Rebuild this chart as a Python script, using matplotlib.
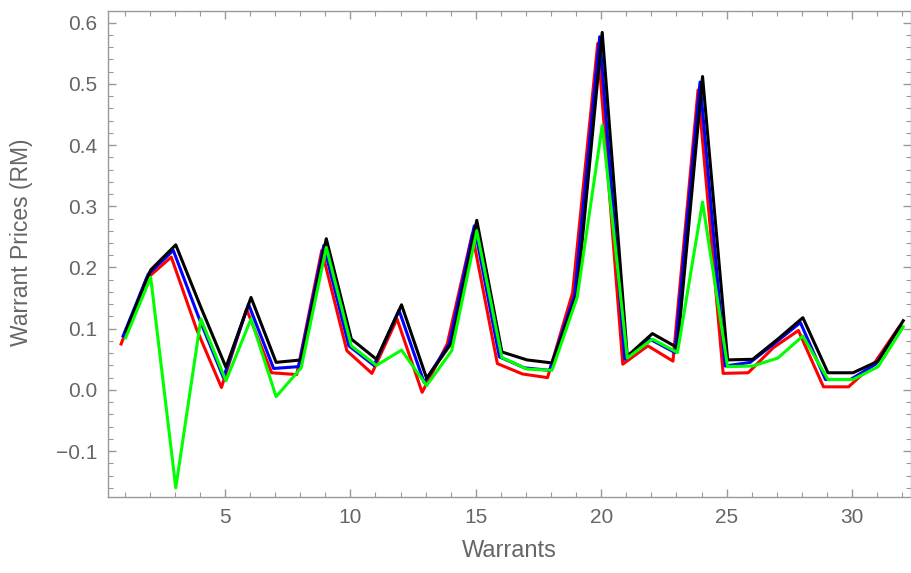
import matplotlib
matplotlib.use("Agg")
import matplotlib.pyplot as plt
import matplotlib.transforms as mtransforms
from matplotlib.ticker import MultipleLocator, FuncFormatter

warrants = list(range(1, 33))

red = [0.075, 0.181, 0.217, 0.100, 0.004, 0.132, 0.028, 0.025, 0.228, 0.064,
       0.027, 0.116, -0.004, 0.075, 0.255, 0.043, 0.026, 0.020, 0.159, 0.566,
       0.042, 0.072, 0.047, 0.490, 0.027, 0.028, 0.069, 0.097, 0.005, 0.005,
       0.042, 0.102]
blue = [0.088, 0.189, 0.228, 0.120, 0.020, 0.140, 0.035, 0.038, 0.236, 0.072,
        0.040, 0.130, 0.012, 0.075, 0.268, 0.054, 0.036, 0.032, 0.155, 0.577,
        0.050, 0.083, 0.061, 0.503, 0.039, 0.045, 0.077, 0.110, 0.017, 0.017,
        0.042, 0.105]
green = [0.085, 0.184, -0.160, 0.116, 0.015, 0.116, -0.011, 0.036, 0.233, 0.072,
         0.040, 0.065, 0.007, 0.064, 0.260, 0.053, 0.034, 0.032, 0.151, 0.432,
         0.052, 0.083, 0.061, 0.307, 0.038, 0.039, 0.052, 0.088, 0.017, 0.017,
         0.038, 0.103]
black = [0.095, 0.196, 0.237, 0.135, 0.037, 0.151, 0.045, 0.049, 0.247, 0.083,
         0.050, 0.139, 0.019, 0.077, 0.277, 0.062, 0.049, 0.044, 0.157, 0.584,
         0.055, 0.092, 0.069, 0.512, 0.049, 0.050, 0.083, 0.118, 0.028, 0.028,
         0.047, 0.113]

plt.rcParams["font.family"] = ["Liberation Sans", "DejaVu Sans"]

text_color = "#666666"
axis_color = "#999999"

fig = plt.figure(figsize=(9.11, 5.73), dpi=100)
ax = fig.add_axes([0.1186, 0.1326, 0.8814, 0.8482])

# the series in the source image sit a few pixels apart horizontally
def shifted(dx_px):
    return mtransforms.offset_copy(ax.transData, fig=fig, x=dx_px * 0.72, y=0, units="points")

lw = 2.2
ax.plot(warrants, red, color="#ff0000", linewidth=lw, transform=shifted(-3.5))
ax.plot(warrants, blue, color="#0000ff", linewidth=lw, transform=shifted(-1.5))
ax.plot(warrants, black, color="#000000", linewidth=lw, transform=shifted(1.0))
ax.plot(warrants, green, color="#00ff00", linewidth=lw, transform=shifted(1.0))

ax.set_xlim(0.34, 32.35)
ax.set_ylim(-0.175, 0.619)

ax.xaxis.set_major_locator(MultipleLocator(5))
ax.xaxis.set_minor_locator(MultipleLocator(1))
ax.yaxis.set_major_locator(MultipleLocator(0.1))
ax.yaxis.set_minor_locator(MultipleLocator(0.02))
ax.yaxis.set_major_formatter(FuncFormatter(lambda v, p: f"{v:.1f}".replace("-", "\u2212")))

for side in ax.spines.values():
    side.set_color(axis_color)
    side.set_linewidth(1.0)

ax.tick_params(which="both", direction="in", top=True, right=True,
               color=axis_color, labelcolor=text_color, labelsize=15)
ax.tick_params(which="major", length=6, width=1.0, pad=8)
ax.tick_params(which="minor", length=3.5, width=0.8)

ax.set_xlabel("Warrants", color=text_color, fontsize=17, labelpad=9)
ax.set_ylabel("Warrant Prices (RM)", color=text_color, fontsize=16.5)
ax.yaxis.set_label_coords(-0.093, 0.525)

fig.savefig("out.png", dpi=100)
